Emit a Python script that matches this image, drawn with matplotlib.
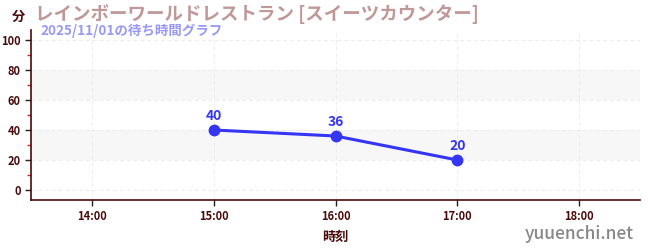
import matplotlib.pyplot as plt
from matplotlib.ticker import MultipleLocator

plt.rcParams['font.family'] = ['Noto Sans CJK JP', 'DejaVu Sans']

title = "レインボーワールドレストラン [スイーツカウンター]"
subtitle = "2025/11/01の待ち時間グラフ"
times = ["15:00", "16:00", "17:00"]
waits = [40, 36, 20]
tick_times = ["14:00", "15:00", "16:00", "17:00", "18:00"]


def to_hours(t):
    h, m = t.split(":")
    return int(h) + int(m) / 60


x = [to_hours(t) for t in times]
ticks = [to_hours(t) for t in tick_times]

axis_col = '#4a0a0a'
line_col = '#3535f5'

fig = plt.figure(figsize=(6.5, 2.5), dpi=100)
ax = fig.add_axes([31 / 650, 1 - 200 / 250, 609 / 650, 170 / 250])

ax.set_xlim(ticks[0] - 0.5, ticks[-1] + 0.5)
ax.set_ylim(-6.67, 106.67)

# alternating bands
for lo, hi in [(20, 40), (60, 80)]:
    ax.axhspan(lo, hi, color='#f7f7f7', zorder=0, lw=0)

ax.yaxis.set_major_locator(MultipleLocator(20))
ax.yaxis.set_minor_locator(MultipleLocator(10))
ax.set_xticks(ticks)
ax.set_xticklabels(tick_times)
ax.grid(True, which='major', color='#ececec', linestyle=(0, (4, 3)), linewidth=0.7, zorder=0)

for side in ['top', 'right']:
    ax.spines[side].set_visible(False)
for side in ['left', 'bottom']:
    ax.spines[side].set_color(axis_col)
    ax.spines[side].set_linewidth(1.2)

ax.tick_params(axis='both', which='major', colors='#222222', labelcolor=axis_col,
               labelsize=8, length=4, width=1)
ax.tick_params(axis='y', which='minor', colors='#e02020', length=3, width=1)
for lab in ax.get_xticklabels() + ax.get_yticklabels():
    lab.set_fontweight('bold')

ax.plot(x, waits, color=line_col, linewidth=2.2, marker='o', markersize=7.5, zorder=3)
for xi, yi in zip(x, waits):
    ax.annotate(str(yi), (xi, yi), xytext=(0, 5), textcoords='offset points',
                ha='center', va='bottom', color=line_col, fontsize=10, fontweight='bold')

ax.set_xlabel("時刻", color=axis_col, fontsize=9.5, fontweight='bold', labelpad=5)

fig.text(12 / 650, 1 - 17 / 250, "分", color=axis_col, fontsize=9.5, fontweight='bold', va='center')
fig.text(35 / 650, 1 - 14 / 250, title, color='#c09898', fontsize=13.3, fontweight='bold', va='center')
fig.text(40 / 650, 1 - 31 / 250, subtitle, color='#9999f5', fontsize=9.7, fontweight='bold', va='center')
fig.text(634 / 650, 1 - 234 / 250, "yuuenchi.net", color='#888888', fontsize=12.5,
         fontweight='medium', ha='right', va='center')

fig.savefig("out.png", dpi=100)
